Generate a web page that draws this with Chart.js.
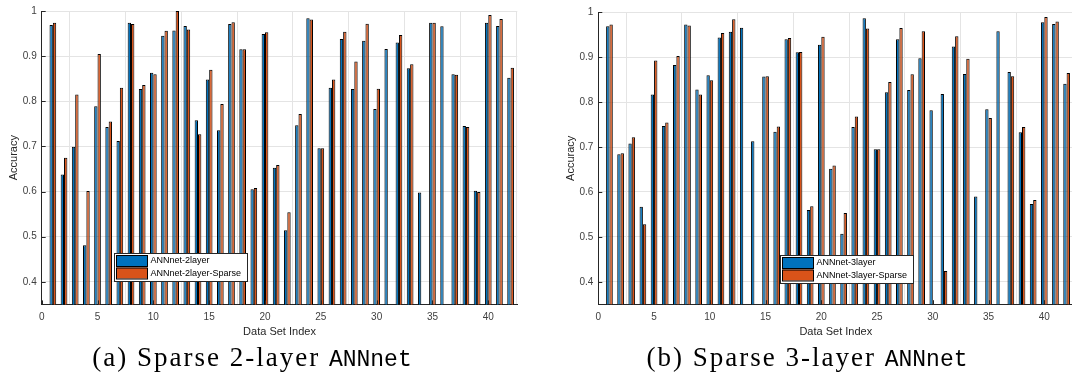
<!DOCTYPE html>
<html>
<head>
<meta charset="utf-8">
<script src="https://cdn.jsdelivr.net/npm/chart.js@4.4.1/dist/chart.umd.min.js"></script>
<style>
  html, body { margin: 0; padding: 0; background: #fff; width: 1072px; height: 383px; overflow: hidden; position: relative; }
  canvas { position: absolute; top: 0; }
  .caption { position: absolute; top: 341px; width: 500px; text-align: center; font: 27px "Liberation Serif", serif; line-height: 32px; color: #000; white-space: nowrap; letter-spacing: 2px; }
  .caption code { font-family: "Liberation Mono", monospace; font-size: 23px; letter-spacing: 0; }
</style>
</head>
<body>
<canvas id="chartA" width="530" height="345" style="left:0"></canvas>
<canvas id="chartB" width="530" height="345" style="left:556px"></canvas>
<div class="caption" style="left:2px">(a) Sparse 2-layer <code>ANNnet</code></div>
<div class="caption" style="left:557px">(b) Sparse 3-layer <code>ANNnet</code></div>

<script>
// data (null = bar below 0.35, not visible)
const dataSetIndex = [1, 2, 3, 4, 5, 6, 7, 8, 9, 10, 11, 12, 13, 14, 15, 16, 17, 18, 19, 20, 21,
  22, 23, 24, 25, 26, 27, 28, 29, 30, 31, 32, 33, 34, 35, 36, 37, 38, 39, 40, 41, 42];

const ann2 = [0.969, 0.638, 0.699, 0.481, 0.789, 0.743, 0.712, 0.974, 0.827, 0.863, 0.945,
  0.957, 0.967, 0.758, 0.848, 0.736, 0.971, 0.915, 0.605, 0.949, 0.653, 0.514, 0.747, 0.984,
  0.696, 0.830, 0.938, 0.827, 0.934, 0.783, 0.916, 0.930, 0.873, 0.598, 0.974, 0.966, 0.860,
  0.745, 0.602, 0.974, 0.967, 0.852];
const ann2Sparse = [0.974, 0.675, 0.815, 0.601, 0.905, 0.755, 0.830, 0.971, 0.836, 0.860, 0.956,
  1.000, 0.959, 0.727, 0.870, 0.794, 0.975, 0.915, 0.608, 0.953, 0.659, 0.554, 0.772, 0.981,
  0.696, 0.848, 0.954, 0.888, 0.972, 0.828, null, 0.947, 0.882, null, 0.974, null, 0.859,
  0.743, 0.599, 0.991, 0.982, 0.874];

const ann3 = [0.969, 0.684, 0.708, 0.567, 0.817, 0.747, 0.883, 0.973, 0.828, 0.860, 0.944,
  0.957, 0.966, 0.713, 0.857, 0.734, 0.940, 0.911, 0.560, 0.928, 0.652, 0.507, 0.745, 0.987,
  0.695, 0.822, 0.940, 0.827, 0.898, 0.782, 0.818, 0.924, 0.863, 0.590, 0.784, 0.958, 0.867,
  0.733, 0.573, 0.978, 0.974, 0.841];
const ann3Sparse = [0.973, 0.686, 0.722, 0.528, 0.893, 0.755, 0.903, 0.971, 0.817, 0.849, 0.954,
  0.985, null, null, 0.858, 0.746, 0.943, 0.912, 0.568, 0.946, 0.659, 0.553, 0.768, 0.964,
  0.695, 0.845, 0.965, 0.862, 0.958, null, 0.424, 0.947, 0.897, null, 0.765, null, 0.858,
  0.745, 0.582, 0.990, 0.980, 0.865];

const xTicks = [0, 5, 10, 15, 20, 25, 30, 35, 40];
const yTicks = [0.4, 0.5, 0.6, 0.7, 0.8, 0.9, 1];

const BLUE = '#0072BD';
const ORANGE = '#D95319';
const AXIS = '#262626';
const TICK = '#404040';
const GRID = '#e4e4e4';
const FONT = '"Liberation Sans", Arial, sans-serif';

// matlab style: short ticks inside the axes, legend box inside the plot
const matlabDecor = {
  id: 'matlabDecor',
  afterDatasetsDraw(chart, args, opts) {
    const { ctx, chartArea: a, scales: { x, y } } = chart;
    ctx.save();
    ctx.strokeStyle = AXIS;
    ctx.lineWidth = 1;
    ctx.beginPath();
    x.ticks.forEach(t => {
      const px = Math.round(x.getPixelForValue(t.value)) + 0.5;
      ctx.moveTo(px, a.bottom);
      ctx.lineTo(px, a.bottom - 4);
    });
    y.ticks.forEach(t => {
      const py = Math.round(y.getPixelForValue(t.value)) + 0.5;
      ctx.moveTo(a.left, py);
      ctx.lineTo(a.left + 4, py);
    });
    ctx.stroke();

    const w = 133, h = 28;
    const lx = Math.round(a.left + opts.left);
    const ly = Math.round(a.bottom - opts.bottom - h);
    ctx.fillStyle = '#fff';
    ctx.fillRect(lx, ly, w, h);
    ctx.strokeStyle = AXIS;
    ctx.strokeRect(lx + 0.5, ly + 0.5, w, h);
    ctx.font = '9px ' + FONT;
    ctx.textBaseline = 'middle';
    chart.data.datasets.forEach((ds, i) => {
      const ry = ly + 2 + i * 12.5;
      ctx.fillStyle = ds.backgroundColor;
      ctx.fillRect(lx + 2, ry, 31, 11);
      ctx.strokeStyle = '#000';
      ctx.strokeRect(lx + 2.5, ry + 0.5, 31, 11);
      ctx.fillStyle = '#000';
      ctx.fillText(ds.label, lx + 36.5, ry + 6);
    });
    ctx.restore();
  }
};

function buildChart(id, series, names, box) {
  return new Chart(document.getElementById(id), {
    type: 'bar',
    data: {
      datasets: series.map((vals, i) => ({
        label: names[i],
        data: dataSetIndex.map((x, j) => ({ x: x, y: vals[j] })),
        backgroundColor: [BLUE, ORANGE][i],
        borderColor: '#000',
        borderWidth: 1,
        categoryPercentage: 0.6,
        barPercentage: 1
      }))
    },
    options: {
      responsive: false,
      animation: false,
      devicePixelRatio: 1,
      layout: { padding: { left: 0, top: box.top, right: box.right, bottom: 0 } },
      plugins: {
        legend: { display: false },
        tooltip: { enabled: false },
        matlabDecor: box.legend
      },
      scales: {
        x: {
          type: 'linear',
          min: 0,
          max: 42.6,
          offset: false,
          afterBuildTicks: s => { s.ticks = xTicks.map(v => ({ value: v })); },
          afterFit: s => { s.height = box.xHeight; },
          grid: { color: GRID, drawTicks: false },
          border: { color: AXIS },
          ticks: { padding: 7, maxRotation: 0, color: TICK, font: { family: FONT, size: 10 } },
          title: { display: true, text: 'Data Set Index', color: AXIS, font: { family: FONT, size: 11 }, padding: { top: 0, bottom: 6 } }
        },
        y: {
          min: 0.35,
          max: 1,
          afterBuildTicks: s => { s.ticks = yTicks.map(v => ({ value: v })); },
          afterFit: s => { s.width = box.yWidth; },
          grid: { color: GRID, drawTicks: false },
          border: { color: AXIS },
          ticks: { padding: 5, color: TICK, font: { family: FONT, size: 10 }, callback: v => String(+v.toFixed(2)) },
          title: { display: true, text: 'Accuracy', color: AXIS, font: { family: FONT, size: 11 }, padding: { top: box.yTitlePad, bottom: 0 } }
        }
      }
    },
    plugins: [matlabDecor]
  });
}

buildChart('chartA', [ann2, ann2Sparse], ['ANNnet-2layer', 'ANNnet-2layer-Sparse'],
  { top: 8.8, right: 12.7, yWidth: 41.7, xHeight: 40.6, yTitlePad: 7.4, legend: { left: 72.3, bottom: 23.4 } });
buildChart('chartB', [ann3, ann3Sparse], ['ANNnet-3layer', 'ANNnet-3layer-Sparse'],
  { top: 12.4, right: 12.7, yWidth: 42.3, xHeight: 40.8, yTitlePad: 8.4, legend: { left: 181.7, bottom: 20.9 } });
</script>
</body>
</html>
